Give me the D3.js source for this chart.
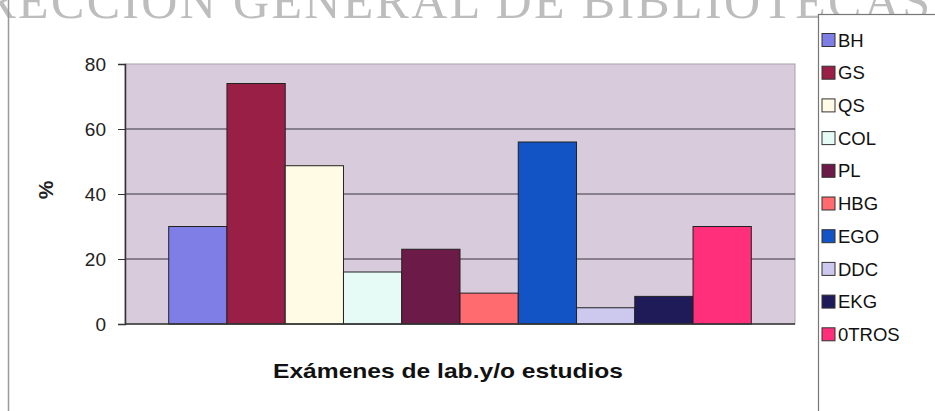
<!DOCTYPE html>
<html>
<head>
<meta charset="utf-8">
<script src="https://cdn.jsdelivr.net/npm/d3@7"></script>
<style>
  body { margin: 0; background: #fff; }
  svg { display: block; font-family: Arial, "Liberation Sans", sans-serif; }
</style>
</head>
<body>
<div id="chart"></div>
<script>
  // series (one category, ten series)
  const series = ['BH', 'GS', 'QS', 'COL', 'PL', 'HBG', 'EGO', 'DDC', 'EKG', '0TROS'];
  const values = [30, 74, 48.7, 16, 23, 9.5, 56, 5, 8.5, 30];
  const colors = ['#7e7ee6', '#9a1f47', '#fffbe4', '#e6faf6', '#6c1a47', '#ff6b6e', '#1253c6', '#ccc8ee', '#1f1b58', '#ff2f7c'];
  const yTicks = [0, 20, 40, 60, 80];

  const width = 935, height = 411;
  const plot = { left: 125, right: 795, top: 64, bottom: 324 };

  const svg = d3.select('#chart')
    .append('svg')
    .attr('width', width)
    .attr('height', height);

  // scanned page watermark, cut off at the top
  svg.append('text')
    .attr('x', -75)
    .attr('y', 18)
    .attr('textLength', 1005)
    .attr('lengthAdjust', 'spacing')
    .attr('font-family', '"Liberation Serif", "DejaVu Serif", serif')
    .attr('font-size', 50)
    .attr('fill', '#bdbdbd')
    .text('DIRECCIÓN GENERAL DE BIBLIOTECAS');

  // outer chart frame (only left edge visible)
  svg.append('line')
    .attr('x1', 8.5).attr('x2', 8.5)
    .attr('y1', 0).attr('y2', height)
    .attr('stroke', '#9a9a9a')
    .attr('stroke-width', 1.5);

  const x = d3.scaleBand()
    .domain(series)
    .range([plot.left, plot.right])
    .paddingInner(0)
    .paddingOuter(0.75);

  const y = d3.scaleLinear()
    .domain([0, 80])
    .range([plot.bottom, plot.top]);

  // plot background
  svg.append('rect')
    .attr('x', plot.left)
    .attr('y', plot.top)
    .attr('width', plot.right - plot.left)
    .attr('height', plot.bottom - plot.top)
    .attr('fill', '#d7cbdc')
    .attr('stroke', '#a8a0ac')
    .attr('stroke-width', 1);

  // gridlines
  svg.append('g')
    .selectAll('line')
    .data(yTicks.filter(d => d > 0 && d < 80))
    .enter()
    .append('line')
    .attr('x1', plot.left)
    .attr('x2', plot.right)
    .attr('y1', d => y(d))
    .attr('y2', d => y(d))
    .attr('stroke', '#3a3440')
    .attr('stroke-width', 1);

  // bars
  svg.append('g')
    .selectAll('rect')
    .data(series)
    .enter()
    .append('rect')
    .attr('x', d => x(d))
    .attr('y', (d, i) => y(values[i]))
    .attr('width', x.bandwidth())
    .attr('height', (d, i) => y(0) - y(values[i]))
    .attr('fill', (d, i) => colors[i])
    .attr('stroke', '#222')
    .attr('stroke-width', 1);

  // y axis
  const yAxis = svg.append('g')
    .attr('transform', `translate(${plot.left},0)`)
    .call(d3.axisLeft(y).tickValues(yTicks).tickSize(7).tickPadding(12));
  yAxis.select('.domain').attr('stroke', '#333').attr('stroke-width', 1.5);
  yAxis.selectAll('.tick line').attr('stroke', '#333');
  yAxis.selectAll('.tick text')
    .attr('font-size', 19)
    .attr('font-family', 'Arial, "Liberation Sans", sans-serif')
    .attr('fill', '#222');

  // baseline
  svg.append('line')
    .attr('x1', plot.left).attr('x2', plot.right)
    .attr('y1', y(0)).attr('y2', y(0))
    .attr('stroke', '#333')
    .attr('stroke-width', 1.5);

  // axis titles
  svg.append('text')
    .attr('transform', 'translate(53,190) rotate(-90)')
    .attr('text-anchor', 'middle')
    .attr('font-size', 21)
    .attr('font-weight', 'bold')
    .attr('fill', '#222')
    .text('%');

  svg.append('text')
    .attr('x', 448)
    .attr('y', 378)
    .attr('text-anchor', 'middle')
    .attr('font-size', 21)
    .attr('font-weight', 'bold')
    .attr('textLength', 350)
    .attr('lengthAdjust', 'spacingAndGlyphs')
    .attr('fill', '#111')
    .text('Exámenes de lab.y/o estudios');

  // legend
  svg.append('rect')
    .attr('x', 818.5)
    .attr('y', 14.5)
    .attr('width', 200)
    .attr('height', 500)
    .attr('fill', '#fff')
    .attr('stroke', '#777')
    .attr('stroke-width', 1.2);

  const legend = svg.append('g')
    .selectAll('g')
    .data(series)
    .enter()
    .append('g')
    .attr('transform', (d, i) => `translate(822,${40 + i * 32.7})`);

  legend.append('rect')
    .attr('x', 0)
    .attr('y', -6.5)
    .attr('width', 13)
    .attr('height', 13)
    .attr('fill', (d, i) => colors[i])
    .attr('stroke', '#333')
    .attr('stroke-width', 1);

  legend.append('text')
    .attr('x', 16)
    .attr('y', 0)
    .attr('dy', '0.36em')
    .attr('font-size', 18.5)
    .attr('fill', '#111')
    .text(d => d);
</script>
</body>
</html>
